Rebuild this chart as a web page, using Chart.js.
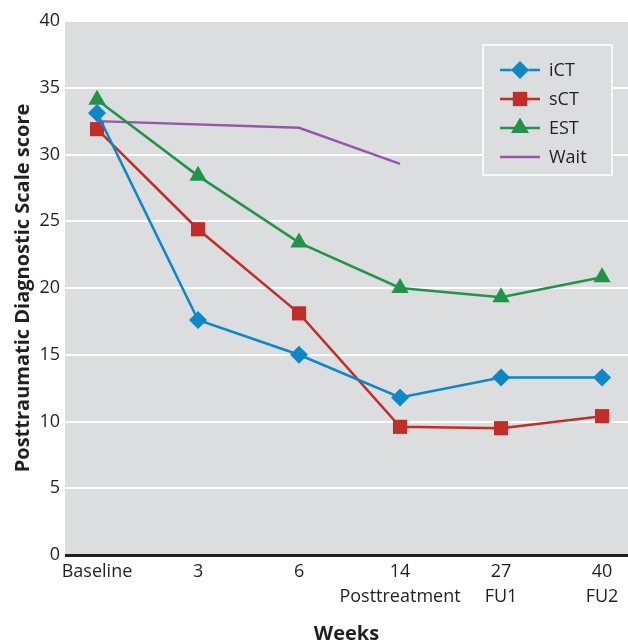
<!DOCTYPE html>
<html>
<head>
<meta charset="utf-8">
<script src="https://cdn.jsdelivr.net/npm/chart.js@4/dist/chart.umd.min.js"></script>
<style>
  html, body { margin: 0; padding: 0; background: #fff; }
  #wrap { width: 628px; height: 643px; }
</style>
</head>
<body>
<div id="wrap"><canvas id="myChart"></canvas></div>
<script>
// week index on the x axis (evenly spaced)
const weeks = [0, 1, 2, 3, 4, 5];
const weekLabels = [["Baseline"], ["3"], ["6"], ["14", "Posttreatment"], ["27", "FU1"], ["40", "FU2"]];
const yTicks = [0, 5, 10, 15, 20, 25, 30, 35, 40];

const iCT = [33.1, 17.6, 15.0, 11.8, 13.3, 13.3];
const sCT = [31.9, 24.4, 18.1, 9.6, 9.5, 10.4];
const EST = [34.1, 28.4, 23.4, 20.0, 19.3, 20.8];
const wait = [32.5, null, 32.0, 29.3, null, null];

const font = "Open Sans";
const ctx = document.getElementById("myChart");

function toPoints(values) {
  return weeks.map((w, i) => ({ x: w, y: values[i] }));
}

const plotBackground = {
  id: "plotBackground",
  beforeDraw(chart) {
    const { ctx, chartArea } = chart;
    ctx.save();
    ctx.fillStyle = "#dcdddf";
    ctx.fillRect(chartArea.left, chartArea.top, chartArea.right - chartArea.left, chartArea.bottom - chartArea.top);
    ctx.restore();
  },
};

// legend sits inside the plot, top right
const boxLegend = {
  id: "boxLegend",
  afterDraw(chart) {
    const c = chart.ctx;
    const x0 = 483, y0 = 45, w = 129, h = 130;
    c.save();
    c.fillStyle = "#dcdddf";
    c.fillRect(x0, y0, w, h);
    c.strokeStyle = "#ffffff";
    c.lineWidth = 1.5;
    c.strokeRect(x0, y0, w, h);
    chart.data.datasets.forEach((ds, i) => {
      const y = 70 + i * 29;
      c.strokeStyle = ds.borderColor;
      c.lineWidth = ds.borderWidth;
      c.beginPath();
      c.moveTo(500, y);
      c.lineTo(540, y);
      c.stroke();
      if (ds.pointRadius > 0) {
        Chart.helpers.drawPoint(c, {
          pointStyle: ds.pointStyle,
          radius: ds.pointRadius,
          borderWidth: 0,
        }, 520, y);
        c.fillStyle = ds.backgroundColor;
        c.fill();
      }
      c.fillStyle = "#231f20";
      c.font = "18px " + font;
      c.textBaseline = "middle";
      c.fillText(ds.label, 549, y + 1);
    });
    c.restore();
  },
};

new Chart(ctx, {
  type: "line",
  data: {
    datasets: [
      {
        label: "iCT",
        data: toPoints(iCT),
        borderColor: "#0c88c9",
        backgroundColor: "#0c88c9",
        borderWidth: 2.5,
        pointStyle: "rectRot",
        pointRadius: 9,
        pointBorderWidth: 0,
      },
      {
        label: "sCT",
        data: toPoints(sCT),
        borderColor: "#c22d28",
        backgroundColor: "#c22d28",
        borderWidth: 2.5,
        pointStyle: "rect",
        pointRadius: 10,
        pointBorderWidth: 0,
      },
      {
        label: "EST",
        data: toPoints(EST),
        borderColor: "#22944a",
        backgroundColor: "#22944a",
        borderWidth: 2.5,
        pointStyle: "triangle",
        pointRadius: 10,
        pointBorderWidth: 0,
      },
      {
        label: "Wait",
        data: toPoints(wait),
        borderColor: "#9558a9",
        backgroundColor: "#9558a9",
        borderWidth: 2.5,
        pointRadius: 0,
        spanGaps: true,
      },
    ],
  },
  options: {
    responsive: true,
    maintainAspectRatio: false,
    animation: false,
    events: [],
    layout: { autoPadding: false, padding: { top: 21, right: 0, left: 0, bottom: 0 } },
    plugins: {
      legend: { display: false },
      tooltip: { enabled: false },
    },
    scales: {
      x: {
        type: "linear",
        min: -0.317,
        max: 5.257,
        afterBuildTicks: (scale) => {
          scale.ticks = weeks.map((v) => ({ value: v }));
        },
        afterFit: (scale) => {
          scale.height = 88;
          scale.paddingLeft = 0;
          scale.paddingRight = 0;
        },
        grid: { display: false, drawTicks: false },
        border: { display: false },
        ticks: {
          padding: 4,
          maxRotation: 0,
          autoSkip: false,
          color: "#231f20",
          font: { family: font, size: 18, lineHeight: 1.4 },
          callback: (v) => weekLabels[v],
        },
        title: {
          display: true,
          text: "Weeks",
          color: "#231f20",
          font: { family: font, size: 20, weight: "bold" },
          padding: { top: 14, bottom: -3 },
        },
      },
      y: {
        min: 0,
        max: 40,
        afterBuildTicks: (scale) => {
          scale.ticks = yTicks.map((v) => ({ value: v }));
        },
        afterFit: (scale) => {
          scale.width = 65;
          scale.paddingTop = 0;
          scale.paddingBottom = 0;
        },
        grid: {
          drawTicks: false,
          color: (c) => (c.tick && c.tick.value === 0 ? "#231f20" : "#ffffff"),
          lineWidth: (c) => (c.tick && c.tick.value === 0 ? 3 : 2),
        },
        border: { display: false },
        ticks: {
          padding: 5,
          color: "#231f20",
          font: { family: font, size: 18 },
        },
        title: {
          display: true,
          text: "Posttraumatic Diagnostic Scale score",
          color: "#231f20",
          font: { family: font, size: 20, weight: "bold" },
          padding: { top: 11, bottom: 4 },
        },
      },
    },
  },
  plugins: [plotBackground, boxLegend],
});
</script>
</body>
</html>
